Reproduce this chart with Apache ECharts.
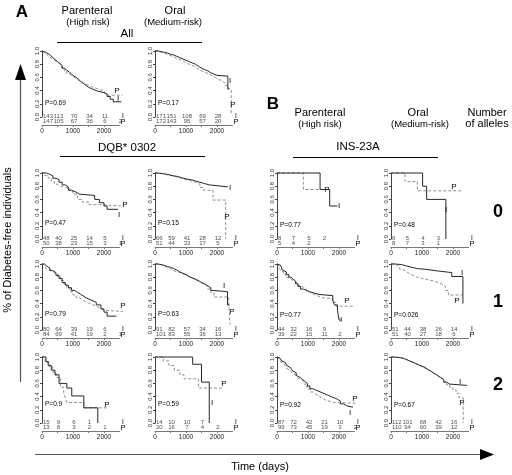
<!DOCTYPE html>
<html><head><meta charset="utf-8">
<script src="https://cdn.jsdelivr.net/npm/echarts@6/dist/echarts.min.js"></script>
<style>html,body{margin:0;padding:0;background:#fff}#c{width:512px;height:475px}</style>
</head><body><div id="c"></div>
<script>
// ---------- DATA ----------
const riskTimes = [0, 500, 1000, 1500, 2000, 2500];
const xTickLabels = [0, 1000, 2000];

// A: All
const allParI = [[0,1],[60,0.98],[120,0.96],[200,0.93],[280,0.9],[350,0.87],[420,0.84],[500,0.81],[580,0.78],[650,0.74],[720,0.71],[800,0.68],[880,0.65],[950,0.62],[1030,0.6],[1100,0.57],[1180,0.54],[1250,0.51],[1330,0.48],[1420,0.45],[1500,0.43],[1600,0.41],[1700,0.39],[1800,0.38],[1900,0.37],[2000,0.35],[2100,0.31],[2200,0.27],[2300,0.23],[2560,0.23]];
const allParP = [[0,1],[50,0.97],[100,0.94],[170,0.91],[250,0.88],[330,0.86],[400,0.84],[480,0.81],[560,0.78],[640,0.74],[720,0.7],[800,0.66],[870,0.63],[950,0.61],[1030,0.58],[1120,0.55],[1200,0.52],[1300,0.5],[1400,0.48],[1500,0.46],[1600,0.44],[1700,0.43],[1800,0.41],[1900,0.4],[2000,0.38],[2060,0.33],[2600,0.33]];
const allParRiskI = [143,113,70,34,11];
const allParRiskP = [147,105,67,36,6,2];
const allParPval = 'P=0.69';

const allOralI = [[0,1],[100,0.99],[200,0.98],[300,0.97],[400,0.95],[500,0.94],[600,0.92],[700,0.9],[800,0.88],[900,0.86],[1000,0.84],[1100,0.82],[1200,0.8],[1300,0.77],[1400,0.74],[1500,0.72],[1600,0.7],[1700,0.67],[1800,0.65],[1900,0.63],[2000,0.62],[2350,0.42],[2380,0.42]];
const allOralP = [[0,1],[80,0.99],[150,0.98],[250,0.96],[350,0.94],[450,0.92],[550,0.9],[650,0.88],[750,0.86],[850,0.84],[950,0.81],[1050,0.79],[1150,0.77],[1250,0.74],[1350,0.71],[1450,0.69],[1550,0.67],[1650,0.65],[1750,0.62],[1850,0.6],[1950,0.57],[2050,0.55],[2150,0.52],[2250,0.48],[2350,0.44],[2400,0.42],[2460,0.03]];
const allOralRiskI = [171,151,108,69,28];
const allOralRiskP = [172,143,95,57,20];
const allOralPval = 'P=0.17';

// A: DQB* 0302, 0 alleles
const r0ParI = [[0,1],[150,0.98],[250,0.96],[350,0.92],[450,0.9],[550,0.86],[650,0.82],[750,0.79],[850,0.74],[950,0.71],[1100,0.68],[1200,0.66],[1700,0.6],[1850,0.55],[2000,0.5],[2100,0.45],[2450,0.45]];
const r0ParP = [[0,1],[80,0.96],[200,0.92],[300,0.87],[400,0.83],[500,0.8],[600,0.78],[750,0.77],[900,0.72],[1000,0.68],[1150,0.6],[1300,0.56],[1500,0.52],[1900,0.5],[2550,0.5]];
const r0ParRiskI = [48,40,25,14,5];
const r0ParRiskP = [50,38,23,15,3,1];
const r0ParPval = 'P=0.47';

const r0OralI = [[0,1],[100,0.99],[250,0.98],[400,0.96],[550,0.95],[700,0.93],[850,0.91],[1000,0.9],[1150,0.88],[1300,0.86],[1450,0.84],[1600,0.82],[1750,0.79],[2350,0.79]];
const r0OralP = [[0,1],[100,0.99],[250,0.97],[400,0.96],[550,0.94],[700,0.92],[850,0.9],[1000,0.88],[1150,0.86],[1300,0.83],[1450,0.78],[1550,0.74],[1870,0.59],[2280,0.0]];
const r0OralRiskI = [66,59,41,28,12];
const r0OralRiskP = [51,44,33,17,5];
const r0OralPval = 'P=0.15';

// A: 1 allele
const r1ParI = [[0,1],[80,0.97],[150,0.94],[250,0.9],[350,0.87],[450,0.83],[550,0.78],[650,0.72],[750,0.68],[850,0.64],[950,0.6],[1050,0.57],[1150,0.54],[1250,0.51],[1350,0.48],[1450,0.45],[1600,0.42],[1750,0.38],[1900,0.32],[2000,0.27],[2100,0.21],[2400,0.21]];
const r1ParP = [[0,1],[50,0.97],[120,0.93],[200,0.9],[300,0.87],[400,0.84],[500,0.8],[600,0.75],[700,0.7],[800,0.64],[900,0.58],[1000,0.53],[1100,0.49],[1200,0.46],[1300,0.43],[1400,0.41],[1500,0.38],[1650,0.35],[1800,0.32],[1900,0.3],[2000,0.28],[2600,0.28]];
const r1ParRiskI = [80,64,39,19,6];
const r1ParRiskP = [84,69,41,19,2,1];
const r1ParPval = 'P=0.79';

const r1OralI = [[0,1],[100,0.99],[200,0.98],[300,0.96],[400,0.95],[500,0.93],[600,0.91],[700,0.88],[800,0.86],[900,0.84],[1000,0.81],[1100,0.79],[1200,0.77],[1300,0.75],[1400,0.72],[1500,0.7],[1600,0.67],[1700,0.64],[1800,0.6],[1870,0.58],[2340,0.38],[2400,0.38]];
const r1OralP = [[0,1],[100,0.99],[200,0.97],[300,0.95],[400,0.93],[500,0.9],[600,0.88],[700,0.87],[800,0.85],[900,0.83],[1000,0.81],[1100,0.79],[1200,0.76],[1300,0.74],[1400,0.71],[1500,0.69],[1600,0.66],[1700,0.62],[1800,0.57],[1900,0.5],[2380,0.38],[2420,0.08]];
const r1OralRiskI = [91,82,57,34,16];
const r1OralRiskP = [101,83,55,36,13];
const r1OralPval = 'P=0.63';

// A: 2 alleles
const r2ParI = [[0,1],[130,0.93],[200,0.87],[300,0.8],[420,0.73],[550,0.6],[800,0.53],[960,0.41],[1350,0.23],[1800,0.0]];
const r2ParP = [[0,1],[100,0.92],[250,0.85],[350,0.77],[450,0.69],[600,0.54],[700,0.46],[750,0.38],[800,0.31],[1350,0.23],[2150,0.23]];
const r2ParRiskI = [15,9,6,1];
const r2ParRiskP = [13,8,3,2,1];
const r2ParPval = 'P=0.9';

const r2OralI = [[0,1],[1215,0.89],[1500,0.62],[1750,0.0]];
const r2OralP = [[0,1],[270,0.94],[450,0.87],[620,0.8],[800,0.73],[935,0.67],[1400,0.53],[2180,0.53]];
const r2OralRiskI = [14,10,10,7];
const r2OralRiskP = [20,16,7,4,2];
const r2OralPval = 'P=0.59';

// B: INS-23A, 0 alleles
const b0ParI = [[0,1],[1390,0.75],[1700,0.5],[1950,0.5]];
const b0ParP = [[0,1],[850,0.75],[1450,0.75]];
const b0ParRiskI = [8,7,5,2];
const b0ParRiskP = [5,4,2];
const b0ParPval = 'P=0.77';

const b0OralI = [[0,1],[1020,0.8],[1150,0.6],[1770,0.0]];
const b0OralP = [[0,1],[450,0.87],[850,0.73],[2300,0.73]];
const b0OralRiskI = [6,5,4,3];
const b0OralRiskP = [8,7,3,1];
const b0OralPval = 'P=0.48';

// B: 1 allele
const b1ParI = [[0,1],[60,0.98],[120,0.95],[170,0.91],[230,0.88],[300,0.84],[380,0.8],[450,0.77],[520,0.74],[600,0.7],[680,0.66],[760,0.62],[850,0.6],[950,0.58],[1050,0.56],[1200,0.54],[1350,0.52],[1800,0.45],[1850,0.38],[1950,0.3],[2000,0.15],[2050,0.15]];
const b1ParP = [[0,1],[40,0.97],[80,0.93],[130,0.89],[200,0.85],[280,0.8],[350,0.77],[450,0.74],[550,0.71],[650,0.67],[750,0.65],[850,0.62],[950,0.58],[1050,0.55],[1150,0.52],[1300,0.49],[1450,0.47],[1800,0.42],[1900,0.36],[2450,0.36]];
const b1ParRiskI = [44,32,16,9];
const b1ParRiskP = [39,22,15,11,2];
const b1ParPval = 'P=0.77';

const b1OralI = [[0,1],[150,0.99],[350,0.97],[500,0.95],[670,0.93],[850,0.92],[1100,0.9],[1420,0.87],[1960,0.81],[2320,0.4],[2340,0.4]];
const b1OralP = [[0,1],[100,0.98],[200,0.96],[280,0.92],[380,0.89],[480,0.86],[580,0.83],[700,0.8],[850,0.78],[1000,0.76],[1200,0.74],[1400,0.71],[1550,0.69],[1650,0.66],[1760,0.6],[1850,0.53],[2320,0.53]];
const b1OralRiskI = [51,44,38,26,14];
const b1OralRiskP = [51,40,27,18,6];
const b1OralPval = 'P=0.026';

// B: 2 alleles
const b2ParI = [[0,1],[50,0.98],[100,0.96],[150,0.94],[200,0.92],[260,0.9],[320,0.87],[380,0.84],[440,0.82],[500,0.79],[560,0.76],[620,0.72],[680,0.69],[750,0.66],[820,0.63],[900,0.6],[980,0.56],[1060,0.52],[1150,0.5],[1250,0.48],[1350,0.46],[1450,0.44],[1550,0.42],[1650,0.4],[1750,0.38],[1850,0.36],[1950,0.33],[2050,0.29],[2150,0.26],[2250,0.24],[2450,0.24]];
const b2ParP = [[0,1],[40,0.97],[80,0.95],[130,0.92],[180,0.89],[240,0.86],[300,0.83],[360,0.8],[420,0.78],[480,0.76],[540,0.73],[600,0.71],[660,0.68],[720,0.66],[790,0.63],[860,0.59],[930,0.55],[1000,0.51],[1080,0.47],[1160,0.44],[1250,0.41],[1350,0.38],[1450,0.35],[1550,0.33],[1700,0.31],[1850,0.3],[2600,0.3]];
const b2ParRiskI = [87,72,42,21,10];
const b2ParRiskP = [99,73,45,19,3,2];
const b2ParPval = 'P=0.92';

const b2OralI = [[0,1],[100,0.995],[200,0.99],[300,0.98],[400,0.96],[500,0.94],[600,0.92],[700,0.9],[800,0.88],[900,0.86],[1000,0.84],[1100,0.81],[1200,0.78],[1300,0.75],[1400,0.72],[1500,0.69],[1600,0.66],[1700,0.62],[1800,0.59],[1880,0.57],[2450,0.57]];
const b2OralP = [[0,1],[100,0.995],[200,0.99],[300,0.98],[400,0.965],[500,0.945],[600,0.925],[700,0.9],[800,0.88],[900,0.855],[1000,0.83],[1100,0.805],[1200,0.78],[1300,0.75],[1400,0.72],[1500,0.69],[1600,0.66],[1700,0.62],[1800,0.58],[1900,0.54],[2000,0.5],[2100,0.45],[2200,0.38],[2330,0.0]];
const b2OralRiskI = [112,101,68,42,16];
const b2OralRiskP = [110,94,60,39,12];
const b2OralPval = 'P=0.67';

// ---------- LAYOUT ----------
const FONT = '"Liberation Sans", Arial, sans-serif';
const PXD = 0.031;   // px per day
const H = 66;        // plot height (px)
const CA = 42, CB = 155, CC = 277, CD = 391;
const RA = 51, R0 = 173, R1 = 264, R2 = 357;

const panels = [
  {x:CA, y:RA, I:allParI, P:allParP, rI:allParRiskI, rP:allParRiskP, pv:allParPval, ps:0.21, lab:[['P',75,0.40],['I',76,0.27]]},
  {x:CB, y:RA, I:allOralI, P:allOralP, rI:allOralRiskI, rP:allOralRiskP, pv:allOralPval, ps:0.21, lab:[['I',75,0.55],['P',78,0.19]]},
  {x:CA, y:R0, I:r0ParI, P:r0ParP, rI:r0ParRiskI, rP:r0ParRiskP, pv:r0ParPval, ps:0.24, lab:[['P',83,0.52],['I',77,0.36]]},
  {x:CB, y:R0, I:r0OralI, P:r0OralP, rI:r0OralRiskI, rP:r0OralRiskP, pv:r0OralPval, ps:0.24, lab:[['I',75,0.78],['P',72,0.34]]},
  {x:CA, y:R1, I:r1ParI, P:r1ParP, rI:r1ParRiskI, rP:r1ParRiskP, pv:r1ParPval, ps:0.24, lab:[['P',81,0.36]]},
  {x:CB, y:R1, I:r1OralI, P:r1OralP, rI:r1OralRiskI, rP:r1OralRiskP, pv:r1OralPval, ps:0.24, lab:[['I',69,0.67],['P',77,0.28]]},
  {x:CA, y:R2, I:r2ParI, P:r2ParP, rI:r2ParRiskI, rP:r2ParRiskP, pv:r2ParPval, ps:0.29, lab:[['P',65,0.27]]},
  {x:CB, y:R2, I:r2OralI, P:r2OralP, rI:r2OralRiskI, rP:r2OralRiskP, pv:r2OralPval, ps:0.29, lab:[['I',57,0.31],['P',69,0.59]]},
  {x:CC, y:R0, I:b0ParI, P:b0ParP, rI:b0ParRiskI, rP:b0ParRiskP, pv:b0ParPval, ps:0.21, lab:[['P',50,0.75],['I',62,0.5]]},
  {x:CD, y:R0, I:b0OralI, P:b0OralP, rI:b0OralRiskI, rP:b0OralRiskP, pv:b0OralPval, ps:0.21, lab:[['P',63,0.79],['I',55,0.44]]},
  {x:CC, y:R1, I:b1ParI, P:b1ParP, rI:b1ParRiskI, rP:b1ParRiskP, pv:b1ParPval, ps:0.23, lab:[['P',70,0.44],['I',64,0.16]]},
  {x:CD, y:R1, I:b1OralI, P:b1OralP, rI:b1OralRiskI, rP:b1OralRiskP, pv:b1OralPval, ps:0.23, lab:[['I',71,0.87],['P',66,0.45]]},
  {x:CC, y:R2, I:b2ParI, P:b2ParP, rI:b2ParRiskI, rP:b2ParRiskP, pv:b2ParPval, ps:0.27, lab:[['P',78,0.36],['I',73,0.16]]},
  {x:CD, y:R2, I:b2OralI, P:b2OralP, rI:b2OralRiskI, rP:b2OralRiskP, pv:b2OralPval, ps:0.27, lab:[['I',69,0.63],['P',71,0.3]]}
];

const grid = [], xAxis = [], yAxis = [], series = [], graphic = [];

function T(text, x, y, size, o) {
  o = o || {};
  return {type:'text', x:x, y:y, rotation:o.rot || 0, silent:true, z:10,
    style:{text:text, font:(o.bold ? 'bold ' : '') + size + 'px ' + FONT, fill:o.fill || '#000',
      align:o.align || 'center', verticalAlign:'middle'}};
}
function L(x1, y1, x2, y2, w, c) {
  return {type:'line', silent:true, shape:{x1:x1, y1:y1, x2:x2, y2:y2}, style:{stroke:c || '#000', lineWidth:w || 1}};
}

panels.forEach((p, k) => {
  const gi = 2 * k;
  grid.push({left:p.x, top:p.y, width:2600 * PXD, height:H, outerBoundsMode:'none', containLabel:false});
  grid.push({left:p.x, top:p.y + H - 6, width:2500 * PXD, height:14, outerBoundsMode:'none', containLabel:false});
  xAxis.push({gridIndex:gi, type:'value', min:0, max:2600, show:false});
  yAxis.push({gridIndex:gi, type:'value', min:0, max:1, interval:0.2,
    axisLine:{show:true, lineStyle:{color:'#444', width:1}},
    axisTick:{show:true, length:2, lineStyle:{color:'#444'}},
    splitLine:{show:false},
    axisLabel:{rotate:90, fontSize:6, margin:2, color:'#333', fontFamily:FONT, formatter:v => v.toFixed(1)}});
  xAxis.push({gridIndex:gi + 1, type:'value', min:0, max:2500, interval:500,
    axisLine:{show:true, onZero:false, lineStyle:{color:'#777', width:1}},
    axisTick:{show:true, length:2, lineStyle:{color:'#777'}},
    splitLine:{show:false},
    axisLabel:{fontSize:6.5, margin:3, color:'#222', fontFamily:FONT, showMaxLabel:false,
      formatter:v => (xTickLabels.indexOf(v) >= 0 ? String(v) : '')}});
  yAxis.push({gridIndex:gi + 1, type:'value', min:0, max:14, show:false});

  series.push({type:'line', xAxisIndex:gi, yAxisIndex:gi, data:p.P, step:'end', symbol:'none',
    lineStyle:{color:'#8f8f8f', width:1, type:[3, 2]}, silent:true, clip:false});
  series.push({type:'line', xAxisIndex:gi, yAxisIndex:gi, data:p.I, step:'end', symbol:'none',
    lineStyle:{color:'#262626', width:1}, silent:true, clip:false});

  const risk = [];
  p.rI.forEach((n, i) => risk.push({value:[riskTimes[i], 8.5], name:String(n), label:{align:i === 0 ? 'left' : 'center'}}));
  p.rP.forEach((n, i) => risk.push({value:[riskTimes[i], 3.5], name:String(n), label:{align:i === 0 ? 'left' : 'center'}}));
  series.push({type:'scatter', xAxisIndex:gi + 1, yAxisIndex:gi + 1, symbolSize:1, silent:true,
    itemStyle:{color:'rgba(0,0,0,0)'}, data:risk,
    label:{show:true, position:'inside', formatter:'{b}', fontSize:6, color:'#222', fontFamily:FONT, offset:[1, 0]}});

  graphic.push(T(p.pv, p.x + 3, p.y + (1 - p.ps) * H, 6.5, {align:'left'}));
  p.lab.forEach(l => graphic.push(T(l[0], p.x + l[1], p.y + (1 - l[2]) * H, 8)));
  graphic.push(T('I', p.x + 81, p.y + H - 1, 6.5));
  graphic.push(T('P', p.x + 81, p.y + H + 4.5, 7.5));
});

// headers
graphic.push(T('A', 22, 12, 17, {bold:true}));
graphic.push(T('Parenteral', 87, 11, 11));
graphic.push(T('(High risk)', 88, 22, 9.5));
graphic.push(T('Oral', 175, 11, 11));
graphic.push(T('(Medium-risk)', 173, 22, 9.5));
graphic.push(T('All', 127, 34, 11.5));
graphic.push(L(57, 42.5, 202, 42.5));
graphic.push(T('DQB* 0302', 127, 148, 11.5));
graphic.push(L(60, 156.5, 205, 156.5));

graphic.push(T('B', 273, 104, 17, {bold:true}));
graphic.push(T('Parenteral', 320, 113, 11));
graphic.push(T('(High risk)', 320, 124, 9.5));
graphic.push(T('Oral', 418, 113, 11));
graphic.push(T('(Medium-risk)', 420, 124, 9.5));
graphic.push(T('Number', 487, 113, 11));
graphic.push(T('of alleles', 487, 124, 11));
graphic.push(T('INS-23A', 358, 147, 11.5));
graphic.push(L(293, 157.5, 438, 157.5));
graphic.push(T('0', 498, 212, 18, {bold:true}));
graphic.push(T('1', 498, 302, 18, {bold:true}));
graphic.push(T('2', 498, 385, 18, {bold:true}));

// axes arrows
graphic.push(L(20.5, 78, 20.5, 382, 1.2, '#555'));
graphic.push({type:'polygon', silent:true, shape:{points:[[20.5, 64], [15, 80], [26, 80]]}, style:{fill:'#000'}});
graphic.push(T('% of Diabetes-free individuals', 8, 240, 11, {rot:Math.PI / 2}));
graphic.push(L(35, 454.5, 482, 454.5, 1.2, '#555'));
graphic.push({type:'polygon', silent:true, shape:{points:[[494, 454.5], [480, 449], [480, 460]]}, style:{fill:'#000'}});
graphic.push(T('Time (days)', 260, 467, 11));

const chart = echarts.init(document.getElementById('c'), null, {renderer:'canvas'});
chart.setOption({animation:false, backgroundColor:'#fff', grid:grid, xAxis:xAxis, yAxis:yAxis, series:series, graphic:graphic});
</script></body></html>
